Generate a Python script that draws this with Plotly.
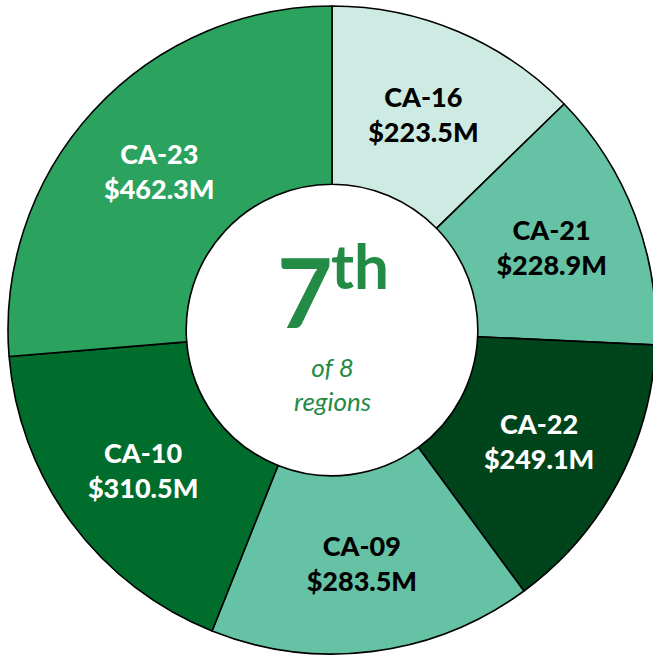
import plotly.graph_objects as go

districts = ["CA-16", "CA-21", "CA-22", "CA-09", "CA-10", "CA-23"]
amounts_m = [223.5, 228.9, 249.1, 283.5, 310.5, 462.3]
slice_colors = ["#CDEBE2", "#66C2A5", "#00441B", "#66C2A5", "#006D2C", "#2CA25F"]
label_colors = ["#000000", "#000000", "#FFFFFF", "#000000", "#FFFFFF", "#FFFFFF"]
rank_number = "7"
rank_suffix = "th"
caption_lines = ["of 8", "regions"]

W, H = 664, 660
cx, cy, R = 332, 330, 324

labels_text = [f"{d}<br>${v:.1f}M" for d, v in zip(districts, amounts_m)]

fig = go.Figure(go.Pie(
    labels=districts,
    values=amounts_m,
    text=labels_text,
    textinfo="text",
    texttemplate="%{text}",
    hoverinfo="label+value",
    sort=False,
    direction="clockwise",
    rotation=0,
    hole=0.45,
    marker=dict(colors=slice_colors, line=dict(color="#000000", width=1.6)),
    insidetextfont=dict(family="Lato", size=27, color=label_colors, weight=900),
    textposition="inside",
    insidetextorientation="horizontal",
    domain=dict(x=[(cx - R) / W, (cx + R) / W], y=[1 - (cy + R) / H, 1 - (cy - R) / H]),
    showlegend=False,
))

green = "#238B45"
fig.add_annotation(x=305 / W, y=1 - 350 / H, xref="paper", yref="paper",
                   text=rank_number, showarrow=False, xanchor="center", yanchor="bottom",
                   font=dict(family="Lato", size=96, color=green, weight="bold"))
fig.add_annotation(x=329 / W, y=1 - 226 / H, xref="paper", yref="paper",
                   text=rank_suffix, showarrow=False, xanchor="left", yanchor="top",
                   font=dict(family="Lato", size=62, color=green, weight="bold"))
fig.add_annotation(x=cx / W, y=1 - 384 / H, xref="paper", yref="paper",
                   text="<i>" + "<br>".join(caption_lines) + "</i>", showarrow=False,
                   xanchor="center", yanchor="middle",
                   font=dict(family="Lato", size=26, color=green))

fig.update_layout(
    width=W, height=H,
    margin=dict(l=0, r=0, t=0, b=0),
    paper_bgcolor="white", plot_bgcolor="white",
)

fig.write_html("out.html", config={"displayModeBar": False},
               post_script="document.body.style.margin='0';document.body.style.overflow='hidden';")
